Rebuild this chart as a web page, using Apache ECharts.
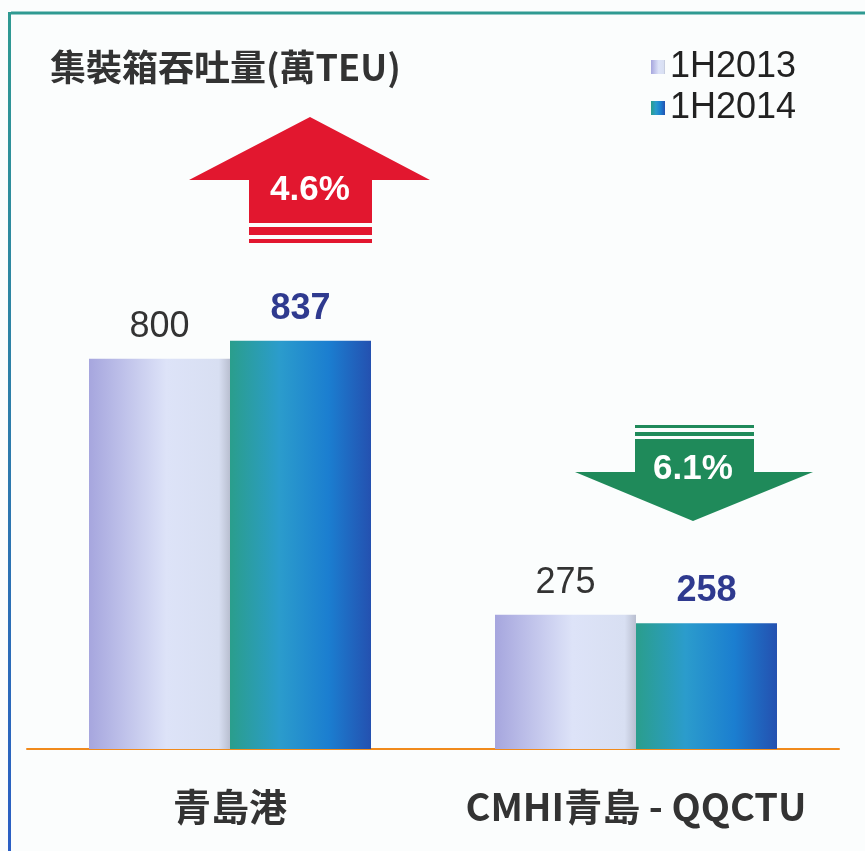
<!DOCTYPE html>
<html>
<head>
    <meta charset="utf-8">
    <title>集裝箱吞吐量</title>
    <script src="https://cdn.jsdelivr.net/npm/echarts@6/dist/echarts.min.js"></script>
    <style>
        html, body { margin: 0; padding: 0; background: #fbfdfd; }
        #container { width: 865px; height: 851px; }
    </style>
</head>
<body>
    <div id="container"></div>
    <script type="text/javascript">
        // 数据
        var categories = ['青島港', 'CMHI青島 - QQCTU'];
        var seriesNames = ['1H2013', '1H2014'];
        var values2013 = [800, 275];
        var values2014 = [837, 258];
        var changeLabels = ['4.6%', '6.1%'];

        var latin = '"Liberation Sans", Arial, sans-serif';
        var cjk = '"Noto Sans CJK TC", "Noto Sans CJK SC", sans-serif';

        // 柱子渐变色
        var grad2013 = new echarts.graphic.LinearGradient(0, 0, 1, 0, [
            { offset: 0, color: '#a6a6de' },
            { offset: 0.55, color: '#dde3f8' },
            { offset: 0.92, color: '#d8dff2' },
            { offset: 1, color: '#b9bfd0' }
        ]);
        var grad2014 = new echarts.graphic.LinearGradient(0, 0, 1, 0, [
            { offset: 0, color: '#2a9e8c' },
            { offset: 0.35, color: '#2b9ccc' },
            { offset: 0.7, color: '#1b7ed0' },
            { offset: 1, color: '#2451b0' }
        ]);

        var chart = echarts.init(document.getElementById('container'));

        chart.setOption({
            backgroundColor: '#fbfdfd',
            animation: false,
            grid: { left: 27, right: 26, top: 66, bottom: 102 },
            legend: {
                orient: 'vertical',
                left: 646,
                top: 44,
                itemWidth: 14,
                itemHeight: 14,
                itemGap: 5,
                icon: 'rect',
                data: seriesNames,
                textStyle: { fontSize: 36, lineHeight: 36, color: '#222', fontFamily: latin }
            },
            xAxis: {
                type: 'category',
                data: categories,
                axisLine: { lineStyle: { color: '#f08a1c', width: 2 } },
                axisTick: { show: false },
                axisLabel: {
                    interval: 0,
                    hideOverlap: false,
                    margin: 39,
                    fontSize: 38,
                    fontWeight: 'bold',
                    color: '#333',
                    fontFamily: cjk
                }
            },
            yAxis: {
                type: 'value',
                min: 0,
                max: 1400,
                show: false,
                splitLine: { show: false }
            },
            series: [{
                name: seriesNames[0],
                type: 'bar',
                data: values2013,
                barWidth: 141,
                barGap: '0%',
                itemStyle: { color: grad2013 },
                label: {
                    show: true,
                    position: 'top',
                    distance: 14,
                    fontSize: 36,
                    color: '#333',
                    fontFamily: latin
                }
            }, {
                name: seriesNames[1],
                type: 'bar',
                data: values2014,
                barWidth: 141,
                barGap: '0%',
                itemStyle: { color: grad2014 },
                label: {
                    show: true,
                    position: 'top',
                    distance: 14,
                    fontSize: 36,
                    fontWeight: 'bold',
                    color: '#2f3a8f',
                    fontFamily: latin
                }
            }],
            graphic: [
                // 边框
                {
                    type: 'line',
                    shape: { x1: 11, y1: 13, x2: 865, y2: 13 },
                    style: { stroke: '#2f9a92', lineWidth: 3 }
                },
                {
                    type: 'rect',
                    shape: { x: 8, y: 12, width: 3, height: 839 },
                    style: {
                        fill: new echarts.graphic.LinearGradient(0, 0, 0, 1, [
                            { offset: 0, color: '#2f9a92' },
                            { offset: 1, color: '#2a5ec4' }
                        ])
                    }
                },
                // 标题
                {
                    type: 'text',
                    left: 50,
                    top: 49,
                    style: {
                        text: '集裝箱吞吐量(萬TEU)',
                        font: 'bold 36px ' + cjk,
                        fill: '#333'
                    }
                },
                // 上升箭头
                {
                    type: 'polygon',
                    shape: { points: [[310, 117], [430, 180], [372, 180], [372, 223], [249, 223], [249, 180], [189, 180]] },
                    style: { fill: '#e2172f' }
                },
                {
                    type: 'rect',
                    shape: { x: 249, y: 227, width: 123, height: 8 },
                    style: { fill: '#e2172f' }
                },
                {
                    type: 'rect',
                    shape: { x: 249, y: 239, width: 123, height: 4 },
                    style: { fill: '#e2172f' }
                },
                {
                    type: 'text',
                    x: 310,
                    y: 190,
                    style: {
                        text: changeLabels[0],
                        font: 'bold 35px ' + latin,
                        fill: '#fff',
                        align: 'center',
                        verticalAlign: 'middle'
                    }
                },
                // 下降箭头
                {
                    type: 'rect',
                    shape: { x: 635, y: 425, width: 119, height: 3 },
                    style: { fill: '#1f8a5a' }
                },
                {
                    type: 'rect',
                    shape: { x: 635, y: 432, width: 119, height: 4 },
                    style: { fill: '#1f8a5a' }
                },
                {
                    type: 'polygon',
                    shape: { points: [[635, 439], [754, 439], [754, 472], [813, 472], [693, 521], [575, 472], [635, 472]] },
                    style: { fill: '#1f8a5a' }
                },
                {
                    type: 'text',
                    x: 693,
                    y: 469,
                    style: {
                        text: changeLabels[1],
                        font: 'bold 35px ' + latin,
                        fill: '#fff',
                        align: 'center',
                        verticalAlign: 'middle'
                    }
                }
            ]
        });
    </script>
</body>
</html>
